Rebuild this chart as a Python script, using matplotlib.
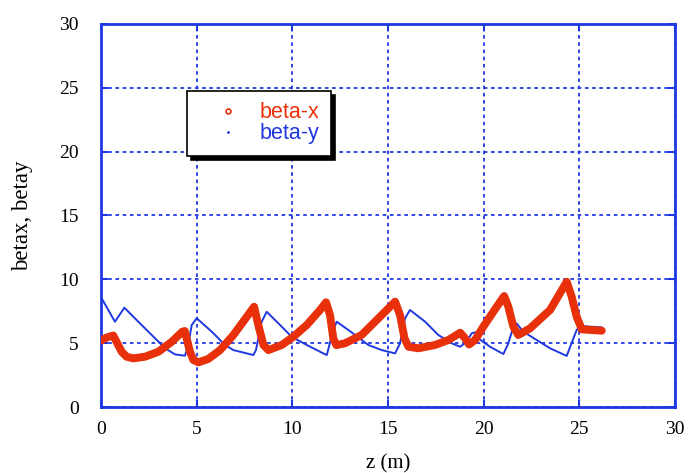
import matplotlib
matplotlib.use("Agg")
import matplotlib.pyplot as plt
from matplotlib.lines import Line2D

# beta-x (red)
z_x = [0.0, 0.3, 0.64, 1.08, 1.34, 1.69, 2.3, 3.0, 3.69, 4.25, 4.38, 4.65, 4.83,
       5.09, 5.6, 6.22, 6.92, 7.62, 8.0, 8.22, 8.49, 8.75, 9.45, 10.05, 10.75,
       11.45, 11.76, 11.97, 12.14, 12.3, 12.75, 13.62, 14.5, 15.37, 15.63, 15.86,
       16.07, 16.59, 17.46, 18.16, 18.77, 19.03, 19.24, 19.55, 19.98, 20.68,
       21.07, 21.29, 21.55, 21.81, 22.42, 23.47, 24.34, 24.6, 24.86, 25.13, 26.17]
beta_x = [5.2, 5.45, 5.6, 4.33, 3.94, 3.81, 3.94, 4.33, 5.1, 5.9, 5.95, 4.33, 3.68,
          3.5, 3.76, 4.45, 5.64, 7.07, 7.85, 6.42, 4.86, 4.46, 4.86, 5.5, 6.42,
          7.6, 8.2, 7.2, 5.38, 4.85, 4.99, 5.64, 6.95, 8.25, 7.2, 5.38,
          4.72, 4.6, 4.86, 5.25, 5.82, 5.38, 4.9, 5.25, 6.29, 7.85,
          8.69, 7.85, 6.29, 5.64, 6.16, 7.6, 9.81, 8.64, 7.07, 6.08, 5.98]

# beta-y (blue)
z_y = [0.0, 0.04, 0.73, 1.22, 1.95, 2.65, 3.35, 3.87, 4.39, 4.56, 4.74, 5.0, 5.79,
       6.48, 6.92, 7.96, 8.1, 8.4, 8.66, 9.36, 9.97, 10.75, 11.62, 11.8, 12.14,
       12.32, 12.93, 13.28, 13.97, 14.67, 15.37, 15.63, 15.89, 16.15, 16.94,
       17.63, 18.33, 18.77, 19.1, 19.37, 19.55, 19.72, 20.33, 21.03, 21.29,
       21.55, 21.72, 22.07, 22.77, 23.47, 24.34, 24.52, 24.86, 25.04, 26.17]
beta_y = [8.55, 8.5, 6.68, 7.78, 6.68, 5.64, 4.6, 4.12, 4.02, 4.86, 6.42, 6.95, 5.9,
          4.86, 4.46, 4.07, 4.46, 6.68, 7.46, 6.42, 5.5, 4.86, 4.2, 4.07, 6.03,
          6.68, 6.03, 5.64, 4.86, 4.46, 4.2, 4.99, 6.95, 7.6, 6.68,
          5.64, 4.99, 4.72, 5.1, 5.77, 5.85, 5.38, 4.72, 4.15, 4.99,
          6.29, 6.55, 5.9, 5.25, 4.6, 4.0, 4.72, 6.03, 6.34, 6.24]

x_ticks = [0, 5, 10, 15, 20, 25, 30]
y_ticks = [0, 5, 10, 15, 20, 25, 30]

RED = "#e8300a"
BLUE = "#2038e0"

fig = plt.figure(figsize=(6.89, 4.73), dpi=100)
ax = fig.add_axes([0.1466, 0.1395, 0.8331, 0.8098])

ax.plot(z_y, beta_y, color=BLUE, lw=1.4, zorder=3)
ax.plot(z_x, beta_x, color=RED, lw=5.7, solid_capstyle="round",
        solid_joinstyle="round", zorder=4)

ax.set_xlim(0, 30)
ax.set_ylim(0, 30)
ax.set_xticks(x_ticks)
ax.set_yticks(y_ticks)
ax.grid(True, color=BLUE, linestyle=(0, (2, 2)), linewidth=1.3)
ax.set_axisbelow(True)
for s in ax.spines.values():
    s.set_color(BLUE)
    s.set_linewidth(2)
ax.tick_params(direction="in", length=5, width=1.5, color=BLUE,
               top=True, right=True, labelsize=14)
ax.tick_params(axis="x", pad=10)
ax.tick_params(axis="y", pad=16)
for lab in ax.get_xticklabels() + ax.get_yticklabels():
    lab.set_fontfamily("Liberation Serif")

ax.set_xlabel("z (m)", fontfamily="Liberation Serif", fontsize=15)
ax.set_ylabel("betax, betay", fontfamily="Liberation Serif", fontsize=16.5)
ax.xaxis.set_label_coords(0.5, -0.122)
ax.yaxis.set_label_coords(-0.118, 0.5)

handles = [Line2D([], [], linestyle="none", marker="o", markersize=3.5,
                  markerfacecolor="none", markeredgecolor=RED, markeredgewidth=1.2),
           Line2D([], [], linestyle="none", marker=".", markersize=2,
                  color=BLUE)]
leg = ax.legend(handles, ["beta-x", "beta-y"], loc="upper left",
                bbox_to_anchor=(0.15, 0.826), frameon=True, fancybox=False,
                shadow={"ox": 3, "oy": -3, "color": "black", "alpha": 1},
                edgecolor="black", framealpha=1,
                prop={"family": "Liberation Sans", "size": 15.5},
                handlelength=2.7, handletextpad=0.1, borderpad=0.55,
                labelspacing=0.0, borderaxespad=0)
leg.get_frame().set_linewidth(1.2)
leg.texts[0].set_color(RED)
leg.texts[1].set_color(BLUE)

fig.savefig("out.png", dpi=100)
